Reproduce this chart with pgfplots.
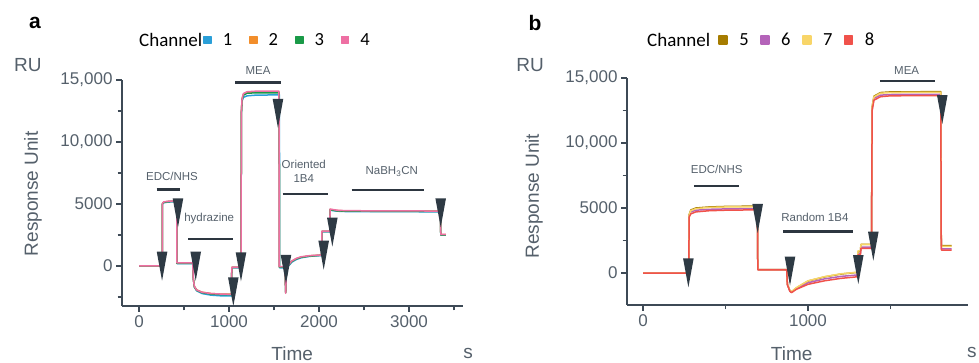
\documentclass[border=0pt]{standalone}
\usepackage{pgfplots}
\pgfplotsset{compat=1.18}
\usepackage{fontspec}
\setmainfont{Liberation Sans}
\newfontfamily\legfont{Carlito}
\definecolor{axc}{HTML}{3E4A56}
\definecolor{txc}{HTML}{55606B}
\definecolor{tri}{HTML}{2E3A44}
\definecolor{barc}{HTML}{2D3640}
\definecolor{c1}{HTML}{2A9FD8}
\definecolor{c2}{HTML}{F28E2B}
\definecolor{c3}{HTML}{1A9A48}
\definecolor{c4}{HTML}{EE6FA3}
\definecolor{c5}{HTML}{A67C00}
\definecolor{c6}{HTML}{B463B9}
\definecolor{c7}{HTML}{F8D568}
\definecolor{c8}{HTML}{F0524B}
\pgfdeclareplotmark{dtri}{%
  \pgfpathmoveto{\pgfqpoint{-5.3pt}{0pt}}%
  \pgfpathlineto{\pgfqpoint{5.3pt}{0pt}}%
  \pgfpathlineto{\pgfqpoint{0pt}{-29pt}}%
  \pgfpathclose\pgfusepathqfill}
\tikzset{anno/.style={font=\fontsize{11.5}{14}\selectfont, text=txc, inner sep=0pt, align=center}}
\pgfplotsset{
  spr/.style={
    scale only axis, width=341pt,
    axis lines*=left,
    axis line style={axc, line width=1.6pt},
    clip=false,
    scaled y ticks=false, scaled x ticks=false,
    tick align=outside, major tick length=6pt, minor tick length=4.5pt,
    every tick/.style={axc, line width=1.4pt},
    tick label style={font=\fontsize{17}{17}\selectfont, text=txc},
    ytick={0,5000,10000,15000},
    yticklabels={0,5000,{10,000},{15,000}},
    ymax=15000,
    label style={font=\fontsize{19}{19}\selectfont, text=txc},
    legend image code/.code={\fill (0pt,-3.5pt) rectangle (7pt,3.5pt);},
  },
  curve/.style={line width=1.5pt, line join=round},
  trimark/.style={only marks, mark=dtri, tri, forget plot},
  abar/.style={barc, line width=2.5pt, forget plot},
}
\begin{document}
\begin{tikzpicture}
\useasboundingbox (0,0) rectangle (979pt,363pt);
% ---------------- panel a ----------------
\begin{axis}[spr,
  at={(122pt,57pt)}, anchor=south west,
  height=226pt,
  xmin=-189, xmax=3600, ymin=-3226,
  xtick={0,1000,2000,3000}, xticklabels={0,1000,2000,3000},
  minor xtick={500,1500,2500,3500},
  minor ytick={-2500,2500,7500,12500},
  xlabel={Time}, ylabel={Response Unit},
  xlabel style={at={(axis description cs:0.499,-0.211)}, anchor=center},
  ylabel style={at={(axis description cs:-0.261,0.496)}, anchor=center, rotate=0},
  legend style={at={(axis description cs:0.2377,1.177)}, anchor=west, draw=none, fill=none,
    inner sep=0pt, legend columns=-1, font=\legfont\fontsize{18.5}{18.5}\selectfont,
    nodes={inner sep=0pt},
    /tikz/every odd column/.append style={column sep=11pt},
    /tikz/every even column/.append style={column sep=17pt}},
]
\addplot[curve, c1] coordinates {(0,0) (258,0) (261,5000) (275,5100) (320,5150) (419,5200) (421,200) (597,200) (603,-1000) (615,-1700) (640,-2000) (700,-2220) (800,-2350) (900,-2400) (1028,-2420) (1031,-150) (1133,-150) (1138,12300) (1145,13300) (1160,13600) (1200,13720) (1300,13780) (1560,13800) (1563,-150) (1622,-150) (1630,-2100) (1638,-400) (1660,0) (1700,320) (1750,530) (1800,660) (1900,780) (2030,840) (2033,2750) (2120,2750) (2123,4500) (2200,4420) (2300,4390) (3350,4370) (3353,2480) (3410,2480)};
\addlegendentry{1}
\addplot[curve, c2] coordinates {(0,0) (258,0) (261,5050) (275,5150) (320,5200) (419,5240) (421,230) (597,230) (603,-1000) (615,-1650) (640,-1930) (700,-2110) (800,-2220) (900,-2260) (1028,-2280) (1031,-110) (1133,-110) (1138,12500) (1145,13450) (1160,13850) (1200,14000) (1300,14030) (1557,14030) (1560,-80) (1622,-80) (1630,-2150) (1638,-330) (1660,80) (1700,400) (1750,600) (1800,720) (1900,820) (2030,880) (2033,2800) (2120,2800) (2123,4560) (2200,4470) (2300,4440) (3350,4420) (3353,2520) (3410,2520)};
\addlegendentry{2}
\addplot[curve, c3] coordinates {(0,0) (258,0) (261,5030) (275,5130) (320,5190) (419,5230) (421,220) (597,220) (603,-1000) (615,-1680) (640,-1960) (700,-2150) (800,-2260) (900,-2300) (1028,-2320) (1031,-120) (1133,-120) (1138,12400) (1145,13400) (1160,13780) (1200,13930) (1300,13970) (1557,13970) (1560,-100) (1622,-100) (1630,-2150) (1638,-350) (1660,60) (1700,380) (1750,580) (1800,700) (1900,810) (2030,870) (2033,2790) (2120,2790) (2123,4540) (2200,4450) (2300,4420) (3350,4400) (3353,2500) (3410,2500)};
\addlegendentry{3}
\addplot[curve, c4] coordinates {(0,0) (258,0) (261,5050) (275,5170) (320,5220) (419,5260) (421,250) (597,250) (603,-1000) (615,-1650) (640,-1930) (700,-2120) (800,-2220) (900,-2260) (1028,-2290) (1031,-100) (1133,-100) (1138,12500) (1145,13500) (1160,13900) (1200,14050) (1300,14100) (1555,14100) (1558,-50) (1622,-50) (1630,-2200) (1638,-300) (1660,100) (1700,420) (1750,620) (1800,740) (1900,840) (2030,890) (2033,2820) (2120,2820) (2123,4590) (2200,4500) (2300,4460) (3350,4430) (3353,2550) (3410,2550)};
\addlegendentry{4}
\addplot[trimark] coordinates {(256,1150) (433,5460) (630,1150) (1048,-910) (1133,1100) (1544,13470) (1633,890) (2052,2040) (2148,3900) (3352,5460)};
\addplot[abar] coordinates {(196,6180) (456,6180)};
\addplot[abar] coordinates {(548,2180) (1048,2180)};
\addplot[abar] coordinates {(1067,14800) (1574,14800)};
\addplot[abar] coordinates {(1597,5800) (2097,5800)};
\addplot[abar] coordinates {(2363,6130) (3167,6130)};
\node[anno] at (axis cs:367,7260) {EDC/NHS};
\node[anno] at (axis cs:780,3790) {hydrazine};
\node[anno] at (axis cs:1322,15800) {MEA};
\node[anno] at (axis cs:1831,7660) {Oriented\\1B4};
\node[anno] at (axis cs:2808,7600) {NaBH\textsubscript{3}CN};
\node[font=\legfont\fontsize{19}{19}\selectfont, anchor=west, inner sep=0pt] at (axis description cs:0.0499,1.177) {Channel};
\node[font=\fontsize{19}{19}\selectfont, text=txc] at (axis description cs:-0.276,1.066) {RU};
\node[font=\fontsize{19}{19}\selectfont, text=txc] at (axis description cs:1.015,-0.208) {s};
\node[font=\bfseries\fontsize{21}{21}\selectfont] at (axis description cs:-0.255,1.252) {a};
\end{axis}
% ---------------- panel b ----------------
\begin{axis}[spr,
  at={(627pt,58pt)}, anchor=south west,
  height=227pt,
  xmin=-97, xmax=1970, ymin=-2460,
  xtick={0,1000}, xticklabels={0,1000},
  minor xtick={500,1500},
  minor ytick={2500,7500,12500},
  xlabel={Time}, ylabel={Response Unit},
  xlabel style={at={(axis description cs:0.483,-0.213)}, anchor=center},
  ylabel style={at={(axis description cs:-0.273,0.48)}, anchor=center, rotate=0},
  legend image code/.code={\fill (0pt,-4pt) rectangle (8pt,4pt);},
  legend style={at={(axis description cs:0.267,1.167)}, anchor=west, draw=none, fill=none,
    inner sep=0pt, legend columns=-1, font=\legfont\fontsize{18.5}{18.5}\selectfont,
    nodes={inner sep=0pt},
    /tikz/every odd column/.append style={column sep=11.5pt},
    /tikz/every even column/.append style={column sep=11.5pt}},
]
\addplot[curve, c5] coordinates {(0,0) (277,0) (280,4500) (290,4850) (320,5000) (400,5080) (500,5120) (693,5150) (696,270) (871,270) (875,-850) (890,-1350) (900,-1450) (930,-1150) (1000,-620) (1100,-300) (1200,-80) (1300,50) (1303,1650) (1318,1650) (1321,2200) (1385,2200) (1389,12800) (1400,13600) (1440,13880) (1500,13930) (1805,13950) (1808,2100) (1870,2100)};
\addlegendentry{5}
\addplot[curve, c6] coordinates {(0,0) (277,0) (280,4400) (290,4700) (320,4830) (400,4900) (500,4930) (693,4960) (696,260) (871,260) (875,-880) (890,-1380) (900,-1480) (930,-1200) (1000,-750) (1100,-450) (1200,-260) (1300,-150) (1303,1500) (1318,1500) (1321,2000) (1385,2000) (1389,12600) (1400,13450) (1440,13680) (1500,13730) (1805,13750) (1808,1850) (1870,1850)};
\addlegendentry{6}
\addplot[curve, c7] coordinates {(0,0) (277,0) (280,4480) (290,4800) (320,4950) (400,5040) (500,5080) (693,5100) (696,265) (871,265) (875,-850) (890,-1350) (900,-1450) (930,-1120) (1000,-600) (1100,-280) (1200,-60) (1300,60) (1303,1700) (1318,1700) (1321,2200) (1385,2200) (1389,12750) (1400,13550) (1440,13830) (1500,13880) (1805,13900) (1808,2050) (1870,2050)};
\addlegendentry{7}
\addplot[curve, c8] coordinates {(0,0) (277,0) (280,4300) (290,4550) (320,4700) (400,4790) (500,4830) (693,4860) (696,250) (871,250) (875,-900) (890,-1400) (900,-1510) (930,-1250) (1000,-870) (1100,-600) (1200,-410) (1300,-290) (1303,1400) (1318,1400) (1321,1900) (1385,1900) (1389,12500) (1400,13300) (1440,13560) (1500,13630) (1805,13650) (1808,1770) (1870,1770)};
\addlegendentry{8}
\addplot[trimark] coordinates {(275,1130) (695,5310) (891,1260) (1305,1380) (1396,3180) (1814,13690)};
\addplot[abar] coordinates {(309,6690) (584,6690)};
\addplot[abar] coordinates {(850,3180) (1275,3180)};
\addplot[abar] coordinates {(1436,14760) (1770,14760)};
\node[anno] at (axis cs:447,7940) {EDC/NHS};
\node[anno] at (axis cs:1042,4300) {Random 1B4};
\node[anno] at (axis cs:1598,15600) {MEA};
\node[font=\legfont\fontsize{19}{19}\selectfont, anchor=west, inner sep=0pt] at (axis description cs:0.0587,1.167) {Channel};
\node[font=\fontsize{19}{19}\selectfont, text=txc] at (axis description cs:-0.284,1.057) {RU};
\node[font=\fontsize{19}{19}\selectfont, text=txc] at (axis description cs:1.011,-0.21) {s};
\node[font=\bfseries\fontsize{21}{21}\selectfont] at (axis description cs:-0.27,1.242) {b};
\end{axis}
\end{tikzpicture}
\end{document}
